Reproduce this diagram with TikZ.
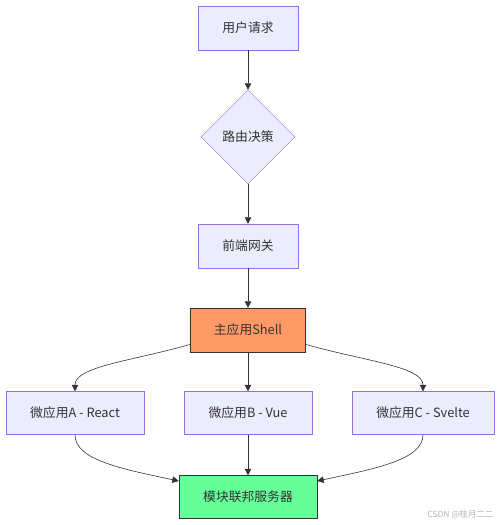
\documentclass[tikz,border=0pt]{standalone}
\usepackage{fontspec}
\setmainfont{Noto Sans CJK SC}
\usepackage{tikz}
\usetikzlibrary{shapes.geometric, arrows, arrows.meta}
\definecolor{cellfill}{HTML}{ECECFF}
\definecolor{cellline}{HTML}{9370DB}
\definecolor{shellfill}{HTML}{FF9966}
\definecolor{serverfill}{HTML}{66FF99}
\definecolor{darkline}{HTML}{333333}
\tikzstyle{cell} = [rectangle, minimum width=100pt, minimum height=44pt, text centered, draw=cellline, fill=cellfill, text=darkline, font=\fontsize{12.8}{15}\selectfont]
\tikzstyle{decision} = [diamond, aspect=1, inner sep=0pt, minimum width=94pt, minimum height=94pt, text centered, draw=cellline, fill=cellfill, text=darkline, font=\fontsize{12.8}{15}\selectfont]
\tikzstyle{hub} = [cell, draw=darkline, fill=shellfill]
\tikzstyle{store} = [cell, draw=darkline, fill=serverfill]
\tikzstyle{arrow} = [semithick, draw=darkline, -{Triangle[length=6.5pt, width=6.5pt]}]

\begin{document}
\begin{tikzpicture}[x=1pt, y=1pt, node distance=109pt]
        \useasboundingbox (0,0) rectangle (500,-525);
        \node (req) [cell] at (248,-28) {用户请求};
        \node (route) [decision, below of=req] {路由决策};
        \node (gateway) [cell, below of=route] {前端网关};
        \node (shell) [hub, below of=gateway, node distance=84pt, minimum width=115pt] {主应用Shell};
        \node (appb) [cell, below of=shell, node distance=83pt, minimum width=128pt, minimum height=43pt] {微应用B - Vue};
        \node (appa) [cell, left of=appb, node distance=173pt, minimum width=138pt, minimum height=43pt] {微应用A - React};
        \node (appc) [cell, right of=appb, node distance=175pt, minimum width=142pt, minimum height=43pt] {微应用C - Svelte};
        \node (server) [store, below of=appb, node distance=84pt, minimum width=138pt, minimum height=43pt] {模块联邦服务器};
        \node (mark) [text=black!30, font=\fontsize{8.5}{10}\selectfont, anchor=east] at (497,-515) {CSDN @桂月二二};

        \draw [arrow] (req) -- (route);
        \draw [arrow] (route) -- (gateway);
        \draw [arrow] (gateway) -- (shell);
        \draw [arrow] (shell.194) .. controls +(196:60) and +(90:25) .. (appa.north);
        \draw [arrow] (shell) -- (appb);
        \draw [arrow] (shell.-14) .. controls +(-16:60) and +(90:25) .. (appc.north);
        \draw [arrow] (appa.south) .. controls +(-90:25) and +(168:60) .. (server.167);
        \draw [arrow] (appb) -- (server);
        \draw [arrow] (appc.south) .. controls +(-90:25) and +(12:60) .. (server.13);
    \end{tikzpicture}
\end{document}
